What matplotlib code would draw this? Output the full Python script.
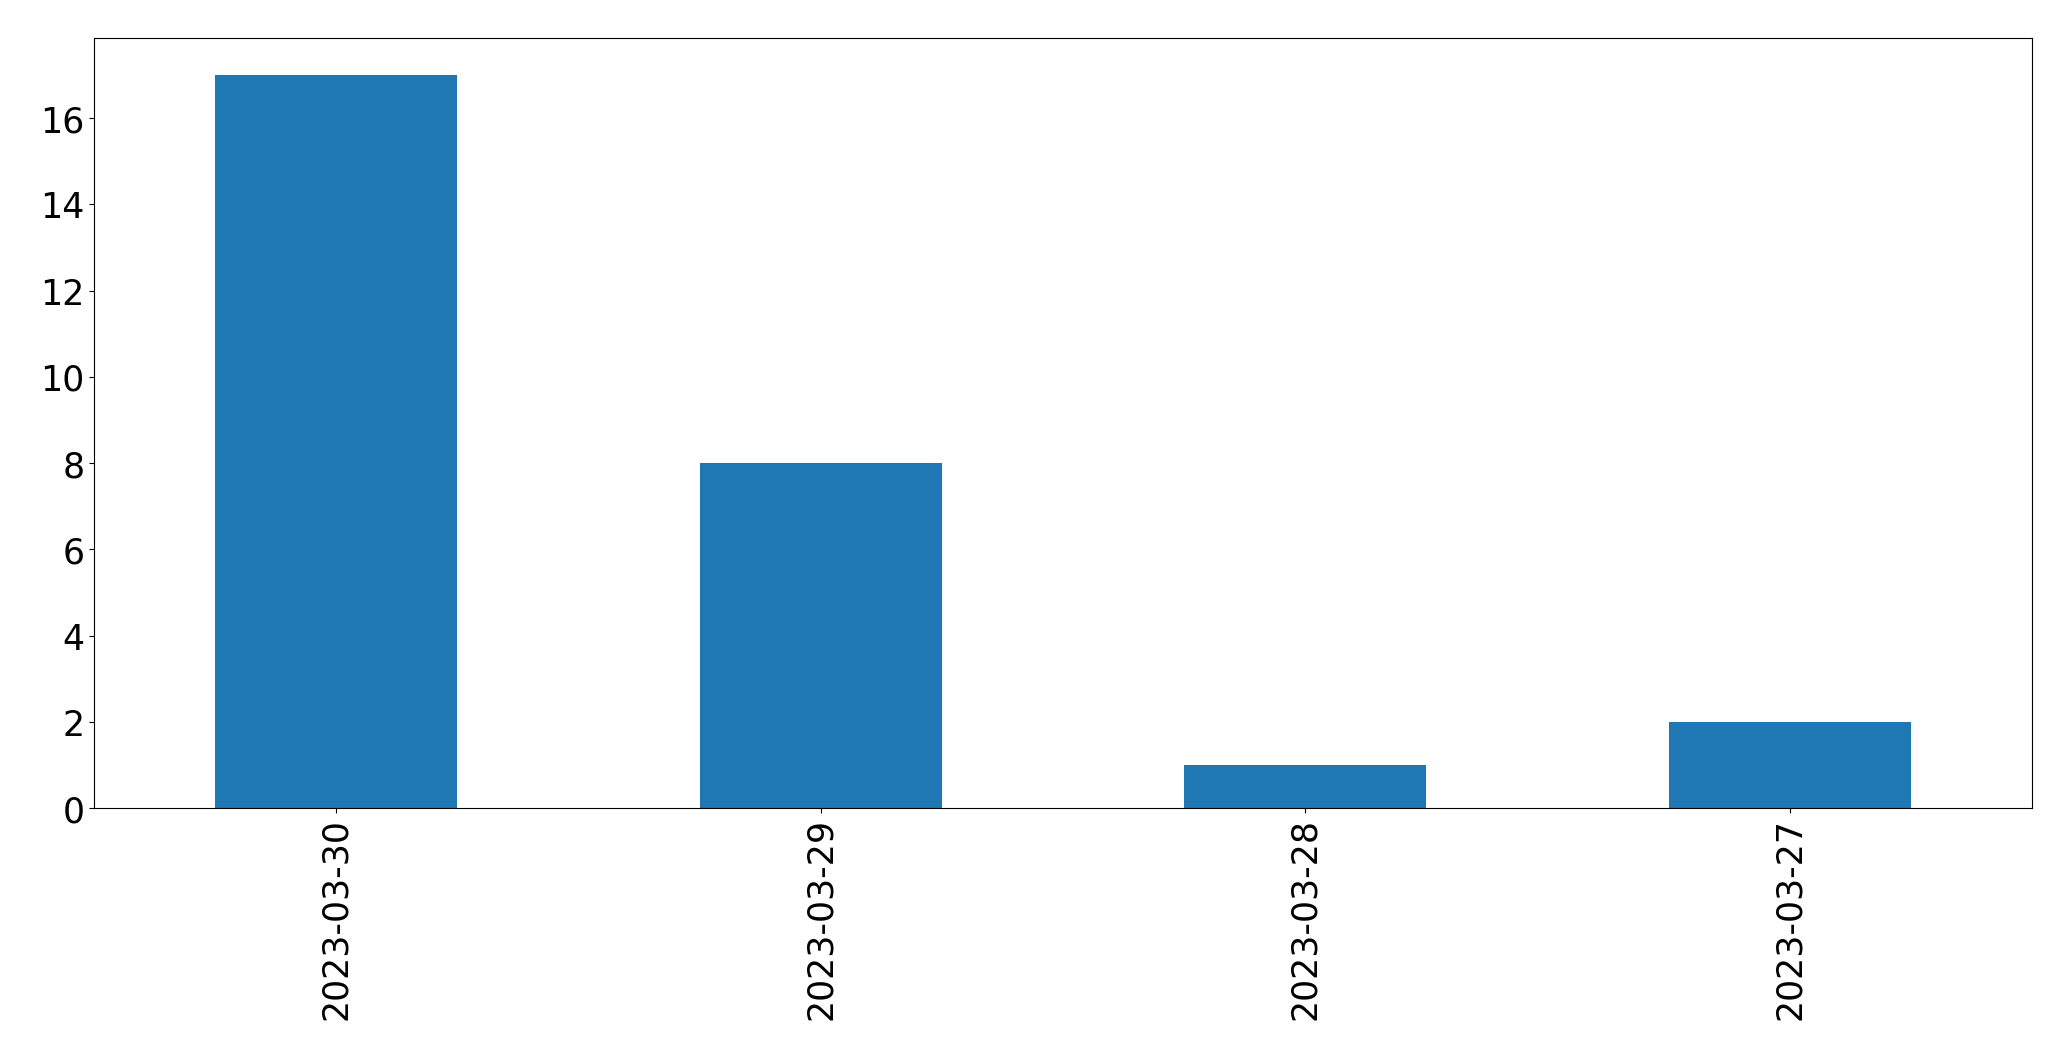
import matplotlib
matplotlib.use("Agg")
import matplotlib.pyplot as plt

dates = ["2023-03-30", "2023-03-29", "2023-03-28", "2023-03-27"]
counts = [17, 8, 1, 2]

fig = plt.figure(figsize=(20.71, 10.605), dpi=100)
ax = fig.add_axes([94 / 2071, 1 - 809 / 1061, (2032 - 94) / 2071, (809 - 39) / 1061])

x = list(range(len(dates)))
ax.bar(x, counts, width=0.5, color="#1f77b4")
ax.set_xlim(-0.5, len(dates) - 0.5)
ax.set_xticks(x)
ax.set_xticklabels(dates, rotation=90)
ax.tick_params(axis="both", labelsize=25)

fig.savefig("out.png", dpi=100)
